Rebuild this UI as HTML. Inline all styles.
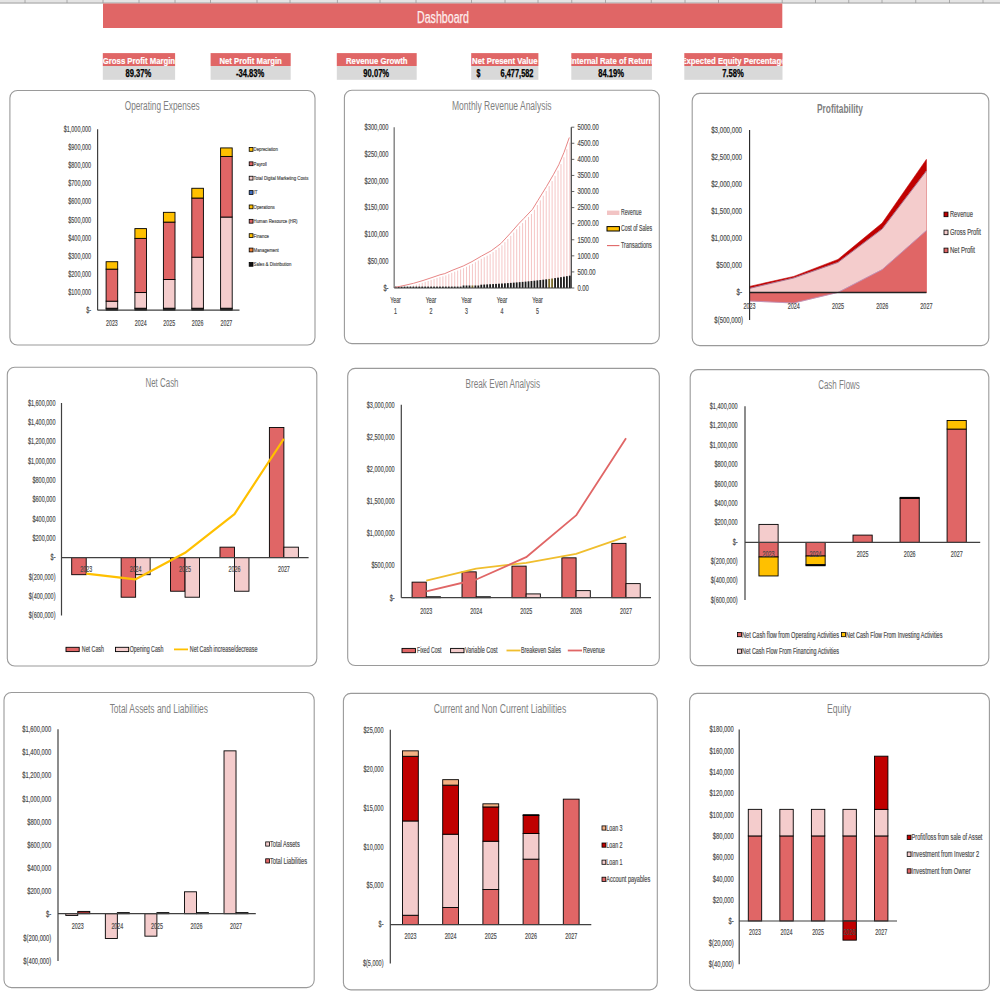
<!DOCTYPE html>
<html><head><meta charset="utf-8"><title>Dashboard</title>
<style>html,body{margin:0;padding:0;background:#fff;width:1000px;height:1000px;overflow:hidden;}
svg{display:block;font-family:"Liberation Sans",sans-serif;}</style></head><body>
<svg width="1000" height="1000" viewBox="0 0 1000 1000" font-family="Liberation Sans, sans-serif">
<rect x="0.00" y="0.00" width="1000.00" height="1000.00" fill="#fff"/>
<rect x="0.00" y="0.00" width="1000.00" height="2.60" fill="#E4E4E4"/>
<line x1="0.00" y1="3.00" x2="1000.00" y2="3.00" stroke="#969696" stroke-width="1.00"/>
<line x1="25.00" y1="0.00" x2="25.00" y2="3.00" stroke="#9A9A9A" stroke-width="0.80"/>
<line x1="67.00" y1="0.00" x2="67.00" y2="3.00" stroke="#9A9A9A" stroke-width="0.80"/>
<line x1="103.00" y1="0.00" x2="103.00" y2="3.00" stroke="#9A9A9A" stroke-width="0.80"/>
<line x1="139.00" y1="0.00" x2="139.00" y2="3.00" stroke="#9A9A9A" stroke-width="0.80"/>
<line x1="175.00" y1="0.00" x2="175.00" y2="3.00" stroke="#9A9A9A" stroke-width="0.80"/>
<line x1="210.50" y1="0.00" x2="210.50" y2="3.00" stroke="#9A9A9A" stroke-width="0.80"/>
<line x1="257.00" y1="0.00" x2="257.00" y2="3.00" stroke="#9A9A9A" stroke-width="0.80"/>
<line x1="290.00" y1="0.00" x2="290.00" y2="3.00" stroke="#9A9A9A" stroke-width="0.80"/>
<line x1="337.40" y1="0.00" x2="337.40" y2="3.00" stroke="#9A9A9A" stroke-width="0.80"/>
<line x1="380.00" y1="0.00" x2="380.00" y2="3.00" stroke="#9A9A9A" stroke-width="0.80"/>
<line x1="416.00" y1="0.00" x2="416.00" y2="3.00" stroke="#9A9A9A" stroke-width="0.80"/>
<line x1="471.50" y1="0.00" x2="471.50" y2="3.00" stroke="#9A9A9A" stroke-width="0.80"/>
<line x1="505.00" y1="0.00" x2="505.00" y2="3.00" stroke="#9A9A9A" stroke-width="0.80"/>
<line x1="538.00" y1="0.00" x2="538.00" y2="3.00" stroke="#9A9A9A" stroke-width="0.80"/>
<line x1="571.75" y1="0.00" x2="571.75" y2="3.00" stroke="#9A9A9A" stroke-width="0.80"/>
<line x1="605.50" y1="0.00" x2="605.50" y2="3.00" stroke="#9A9A9A" stroke-width="0.80"/>
<line x1="651.25" y1="0.00" x2="651.25" y2="3.00" stroke="#9A9A9A" stroke-width="0.80"/>
<line x1="685.00" y1="0.00" x2="685.00" y2="3.00" stroke="#9A9A9A" stroke-width="0.80"/>
<line x1="718.50" y1="0.00" x2="718.50" y2="3.00" stroke="#9A9A9A" stroke-width="0.80"/>
<line x1="782.20" y1="0.00" x2="782.20" y2="3.00" stroke="#9A9A9A" stroke-width="0.80"/>
<line x1="815.50" y1="0.00" x2="815.50" y2="3.00" stroke="#9A9A9A" stroke-width="0.80"/>
<line x1="848.75" y1="0.00" x2="848.75" y2="3.00" stroke="#9A9A9A" stroke-width="0.80"/>
<line x1="882.00" y1="0.00" x2="882.00" y2="3.00" stroke="#9A9A9A" stroke-width="0.80"/>
<line x1="915.75" y1="0.00" x2="915.75" y2="3.00" stroke="#9A9A9A" stroke-width="0.80"/>
<line x1="949.50" y1="0.00" x2="949.50" y2="3.00" stroke="#9A9A9A" stroke-width="0.80"/>
<line x1="983.00" y1="0.00" x2="983.00" y2="3.00" stroke="#9A9A9A" stroke-width="0.80"/>
<rect x="103.00" y="3.50" width="679.30" height="24.50" fill="#E06666"/>
<text x="417.00" y="22.80" font-size="16.00" fill="#FDEDED" font-weight="normal" stroke="#FDEDED" stroke-width="0.25" textLength="52.00" lengthAdjust="spacingAndGlyphs">Dashboard</text>
<rect x="102.80" y="53.10" width="72.30" height="12.90" fill="#E06666"/>
<rect x="102.80" y="66.00" width="72.30" height="13.80" fill="#D9D9D9"/>
<clipPath id="kc0"><rect x="102.80" y="53" width="72.30" height="13"/></clipPath>
<g clip-path="url(#kc0)">
<text x="102.83" y="63.60" font-size="9.00" fill="#fff" font-weight="bold" stroke="#fff" stroke-width="0.20" textLength="72.25" lengthAdjust="spacingAndGlyphs">Gross Profit Margin</text>
</g>
<text x="125.56" y="76.80" font-size="10.00" fill="#000" font-weight="bold" stroke="#000" stroke-width="0.25" textLength="25.77" lengthAdjust="spacingAndGlyphs">89.37%</text>
<rect x="210.60" y="53.10" width="80.10" height="12.90" fill="#E06666"/>
<rect x="210.60" y="66.00" width="80.10" height="13.80" fill="#D9D9D9"/>
<clipPath id="kc1"><rect x="210.60" y="53" width="80.10" height="13"/></clipPath>
<g clip-path="url(#kc1)">
<text x="219.48" y="63.60" font-size="9.00" fill="#fff" font-weight="bold" stroke="#fff" stroke-width="0.20" textLength="62.35" lengthAdjust="spacingAndGlyphs">Net Profit Margin</text>
</g>
<text x="236.00" y="76.80" font-size="10.00" fill="#000" font-weight="bold" stroke="#000" stroke-width="0.25" textLength="28.31" lengthAdjust="spacingAndGlyphs">-34.83%</text>
<rect x="336.80" y="53.10" width="79.90" height="12.90" fill="#E06666"/>
<rect x="336.80" y="66.00" width="79.90" height="13.80" fill="#D9D9D9"/>
<clipPath id="kc2"><rect x="336.80" y="53" width="79.90" height="13"/></clipPath>
<g clip-path="url(#kc2)">
<text x="346.00" y="63.60" font-size="9.00" fill="#fff" font-weight="bold" stroke="#fff" stroke-width="0.20" textLength="61.50" lengthAdjust="spacingAndGlyphs">Revenue Growth</text>
</g>
<text x="363.36" y="76.80" font-size="10.00" fill="#000" font-weight="bold" stroke="#000" stroke-width="0.25" textLength="25.77" lengthAdjust="spacingAndGlyphs">90.07%</text>
<rect x="471.20" y="53.10" width="67.20" height="12.90" fill="#E06666"/>
<rect x="471.20" y="66.00" width="67.20" height="13.80" fill="#D9D9D9"/>
<clipPath id="kc3"><rect x="471.20" y="53" width="67.20" height="13"/></clipPath>
<g clip-path="url(#kc3)">
<text x="472.11" y="63.60" font-size="9.00" fill="#fff" font-weight="bold" stroke="#fff" stroke-width="0.20" textLength="65.39" lengthAdjust="spacingAndGlyphs">Net Present Value</text>
</g>
<text x="476.50" y="76.80" font-size="10.00" fill="#000" font-weight="bold" stroke="#000" stroke-width="0.25" textLength="3.89" lengthAdjust="spacingAndGlyphs">$</text>
<text x="500.58" y="76.80" font-size="10.00" fill="#000" font-weight="bold" stroke="#000" stroke-width="0.25" textLength="32.92" lengthAdjust="spacingAndGlyphs">6,477,582</text>
<rect x="571.30" y="53.10" width="80.60" height="12.90" fill="#E06666"/>
<rect x="571.30" y="66.00" width="80.60" height="13.80" fill="#D9D9D9"/>
<clipPath id="kc4"><rect x="571.30" y="53" width="80.60" height="13"/></clipPath>
<g clip-path="url(#kc4)">
<text x="569.89" y="63.60" font-size="9.00" fill="#fff" font-weight="bold" stroke="#fff" stroke-width="0.20" textLength="83.42" lengthAdjust="spacingAndGlyphs">Internal Rate of Return</text>
</g>
<text x="598.21" y="76.80" font-size="10.00" fill="#000" font-weight="bold" stroke="#000" stroke-width="0.25" textLength="25.77" lengthAdjust="spacingAndGlyphs">84.19%</text>
<rect x="684.30" y="53.10" width="98.20" height="12.90" fill="#E06666"/>
<rect x="684.30" y="66.00" width="98.20" height="13.80" fill="#D9D9D9"/>
<clipPath id="kc5"><rect x="684.30" y="53" width="98.20" height="13"/></clipPath>
<g clip-path="url(#kc5)">
<text x="681.36" y="63.60" font-size="9.00" fill="#fff" font-weight="bold" stroke="#fff" stroke-width="0.20" textLength="104.09" lengthAdjust="spacingAndGlyphs">Expected Equity Percentage</text>
</g>
<text x="722.13" y="76.80" font-size="10.00" fill="#000" font-weight="bold" stroke="#000" stroke-width="0.25" textLength="21.55" lengthAdjust="spacingAndGlyphs">7.58%</text>
<rect x="9.90" y="90.50" width="305.10" height="254.50" rx="7.5" ry="7.5" fill="#fff" stroke="#9A9A9A" stroke-width="1.1"/>
<text x="124.70" y="109.60" font-size="12.50" fill="#7F7F7F" font-weight="normal" textLength="75.00" lengthAdjust="spacingAndGlyphs">Operating Expenses</text>
<text x="63.78" y="132.10" font-size="8.96" fill="#4A4A4A" font-weight="normal" stroke="#4A4A4A" stroke-width="0.18" textLength="27.22" lengthAdjust="spacingAndGlyphs">$1,000,000</text>
<text x="68.31" y="150.19" font-size="8.96" fill="#4A4A4A" font-weight="normal" stroke="#4A4A4A" stroke-width="0.18" textLength="22.69" lengthAdjust="spacingAndGlyphs">$900,000</text>
<text x="68.31" y="168.28" font-size="8.96" fill="#4A4A4A" font-weight="normal" stroke="#4A4A4A" stroke-width="0.18" textLength="22.69" lengthAdjust="spacingAndGlyphs">$800,000</text>
<text x="68.31" y="186.37" font-size="8.96" fill="#4A4A4A" font-weight="normal" stroke="#4A4A4A" stroke-width="0.18" textLength="22.69" lengthAdjust="spacingAndGlyphs">$700,000</text>
<text x="68.31" y="204.46" font-size="8.96" fill="#4A4A4A" font-weight="normal" stroke="#4A4A4A" stroke-width="0.18" textLength="22.69" lengthAdjust="spacingAndGlyphs">$600,000</text>
<text x="68.31" y="222.55" font-size="8.96" fill="#4A4A4A" font-weight="normal" stroke="#4A4A4A" stroke-width="0.18" textLength="22.69" lengthAdjust="spacingAndGlyphs">$500,000</text>
<text x="68.31" y="240.64" font-size="8.96" fill="#4A4A4A" font-weight="normal" stroke="#4A4A4A" stroke-width="0.18" textLength="22.69" lengthAdjust="spacingAndGlyphs">$400,000</text>
<text x="68.31" y="258.73" font-size="8.96" fill="#4A4A4A" font-weight="normal" stroke="#4A4A4A" stroke-width="0.18" textLength="22.69" lengthAdjust="spacingAndGlyphs">$300,000</text>
<text x="68.31" y="276.82" font-size="8.96" fill="#4A4A4A" font-weight="normal" stroke="#4A4A4A" stroke-width="0.18" textLength="22.69" lengthAdjust="spacingAndGlyphs">$200,000</text>
<text x="68.31" y="294.91" font-size="8.96" fill="#4A4A4A" font-weight="normal" stroke="#4A4A4A" stroke-width="0.18" textLength="22.69" lengthAdjust="spacingAndGlyphs">$100,000</text>
<text x="86.16" y="313.00" font-size="8.96" fill="#4A4A4A" font-weight="normal" stroke="#4A4A4A" stroke-width="0.18" textLength="4.84" lengthAdjust="spacingAndGlyphs">$-</text>
<rect x="106.10" y="308.21" width="11.60" height="1.99" fill="#111" stroke="#000" stroke-width="0.90"/>
<rect x="106.10" y="301.15" width="11.60" height="7.06" fill="#F4CCCC" stroke="#000" stroke-width="0.90"/>
<rect x="106.10" y="269.14" width="11.60" height="32.02" fill="#E06666" stroke="#000" stroke-width="0.90"/>
<rect x="106.10" y="261.72" width="11.60" height="7.42" fill="#FFC000" stroke="#000" stroke-width="0.90"/>
<rect x="134.90" y="308.21" width="11.60" height="1.99" fill="#111" stroke="#000" stroke-width="0.90"/>
<rect x="134.90" y="292.56" width="11.60" height="15.65" fill="#F4CCCC" stroke="#000" stroke-width="0.90"/>
<rect x="134.90" y="238.38" width="11.60" height="54.18" fill="#E06666" stroke="#000" stroke-width="0.90"/>
<rect x="134.90" y="228.61" width="11.60" height="9.77" fill="#FFC000" stroke="#000" stroke-width="0.90"/>
<rect x="163.40" y="308.21" width="11.60" height="1.99" fill="#111" stroke="#000" stroke-width="0.90"/>
<rect x="163.40" y="279.54" width="11.60" height="28.67" fill="#F4CCCC" stroke="#000" stroke-width="0.90"/>
<rect x="163.40" y="222.10" width="11.60" height="57.44" fill="#E06666" stroke="#000" stroke-width="0.90"/>
<rect x="163.40" y="212.33" width="11.60" height="9.77" fill="#FFC000" stroke="#000" stroke-width="0.90"/>
<rect x="191.80" y="308.21" width="11.60" height="1.99" fill="#111" stroke="#000" stroke-width="0.90"/>
<rect x="191.80" y="257.20" width="11.60" height="51.01" fill="#F4CCCC" stroke="#000" stroke-width="0.90"/>
<rect x="191.80" y="198.04" width="11.60" height="59.15" fill="#E06666" stroke="#000" stroke-width="0.90"/>
<rect x="191.80" y="188.27" width="11.60" height="9.77" fill="#FFC000" stroke="#000" stroke-width="0.90"/>
<rect x="220.60" y="308.21" width="11.60" height="1.99" fill="#111" stroke="#000" stroke-width="0.90"/>
<rect x="220.60" y="217.04" width="11.60" height="91.17" fill="#F4CCCC" stroke="#000" stroke-width="0.90"/>
<rect x="220.60" y="156.44" width="11.60" height="60.60" fill="#E06666" stroke="#000" stroke-width="0.90"/>
<rect x="220.60" y="147.93" width="11.60" height="8.50" fill="#FFC000" stroke="#000" stroke-width="0.90"/>
<line x1="97.60" y1="129.30" x2="97.60" y2="310.20" stroke="#404040" stroke-width="1.20"/>
<line x1="97.60" y1="310.20" x2="239.50" y2="310.20" stroke="#404040" stroke-width="1.20"/>
<text x="106.03" y="325.60" font-size="8.96" fill="#4A4A4A" font-weight="normal" stroke="#4A4A4A" stroke-width="0.18" textLength="11.74" lengthAdjust="spacingAndGlyphs">2023</text>
<text x="134.83" y="325.60" font-size="8.96" fill="#4A4A4A" font-weight="normal" stroke="#4A4A4A" stroke-width="0.18" textLength="11.74" lengthAdjust="spacingAndGlyphs">2024</text>
<text x="163.33" y="325.60" font-size="8.96" fill="#4A4A4A" font-weight="normal" stroke="#4A4A4A" stroke-width="0.18" textLength="11.74" lengthAdjust="spacingAndGlyphs">2025</text>
<text x="191.73" y="325.60" font-size="8.96" fill="#4A4A4A" font-weight="normal" stroke="#4A4A4A" stroke-width="0.18" textLength="11.74" lengthAdjust="spacingAndGlyphs">2026</text>
<text x="220.53" y="325.60" font-size="8.96" fill="#4A4A4A" font-weight="normal" stroke="#4A4A4A" stroke-width="0.18" textLength="11.74" lengthAdjust="spacingAndGlyphs">2027</text>
<rect x="249.20" y="147.50" width="3.80" height="3.80" fill="#FFC000" stroke="#000" stroke-width="0.80"/>
<text x="253.60" y="151.30" font-size="6.05" fill="#4A4A4A" font-weight="normal" stroke="#4A4A4A" stroke-width="0.18" textLength="24.25" lengthAdjust="spacingAndGlyphs">Depreciation</text>
<rect x="249.20" y="161.87" width="3.80" height="3.80" fill="#E06666" stroke="#000" stroke-width="0.80"/>
<text x="253.60" y="165.67" font-size="6.05" fill="#4A4A4A" font-weight="normal" stroke="#4A4A4A" stroke-width="0.18" textLength="13.20" lengthAdjust="spacingAndGlyphs">Payroll</text>
<rect x="249.20" y="176.24" width="3.80" height="3.80" fill="#F4CCCC" stroke="#000" stroke-width="0.80"/>
<text x="253.60" y="180.04" font-size="6.05" fill="#4A4A4A" font-weight="normal" stroke="#4A4A4A" stroke-width="0.18" textLength="54.74" lengthAdjust="spacingAndGlyphs">Total Digital Marketing Costs</text>
<rect x="249.20" y="190.61" width="3.80" height="3.80" fill="#4472C4" stroke="#000" stroke-width="0.80"/>
<text x="253.60" y="194.41" font-size="6.05" fill="#4A4A4A" font-weight="normal" stroke="#4A4A4A" stroke-width="0.18" textLength="3.84" lengthAdjust="spacingAndGlyphs">IT</text>
<rect x="249.20" y="204.98" width="3.80" height="3.80" fill="#FFC000" stroke="#000" stroke-width="0.80"/>
<text x="253.60" y="208.78" font-size="6.05" fill="#4A4A4A" font-weight="normal" stroke="#4A4A4A" stroke-width="0.18" textLength="21.13" lengthAdjust="spacingAndGlyphs">Operations</text>
<rect x="249.20" y="219.35" width="3.80" height="3.80" fill="#E06666" stroke="#000" stroke-width="0.80"/>
<text x="253.60" y="223.15" font-size="6.05" fill="#4A4A4A" font-weight="normal" stroke="#4A4A4A" stroke-width="0.18" textLength="43.93" lengthAdjust="spacingAndGlyphs">Human Resource (HR)</text>
<rect x="249.20" y="233.72" width="3.80" height="3.80" fill="#FFC000" stroke="#000" stroke-width="0.80"/>
<text x="253.60" y="237.52" font-size="6.05" fill="#4A4A4A" font-weight="normal" stroke="#4A4A4A" stroke-width="0.18" textLength="15.37" lengthAdjust="spacingAndGlyphs">Finance</text>
<rect x="249.20" y="248.09" width="3.80" height="3.80" fill="#ED7D31" stroke="#000" stroke-width="0.80"/>
<text x="253.60" y="251.89" font-size="6.05" fill="#4A4A4A" font-weight="normal" stroke="#4A4A4A" stroke-width="0.18" textLength="25.21" lengthAdjust="spacingAndGlyphs">Management</text>
<rect x="249.20" y="262.46" width="3.80" height="3.80" fill="#111" stroke="#000" stroke-width="0.80"/>
<text x="253.60" y="266.26" font-size="6.05" fill="#4A4A4A" font-weight="normal" stroke="#4A4A4A" stroke-width="0.18" textLength="37.70" lengthAdjust="spacingAndGlyphs">Sales &amp; Distribution</text>
<rect x="344.40" y="90.20" width="314.90" height="253.40" rx="7.5" ry="7.5" fill="#fff" stroke="#9A9A9A" stroke-width="1.1"/>
<text x="452.00" y="109.60" font-size="12.50" fill="#7F7F7F" font-weight="normal" textLength="99.60" lengthAdjust="spacingAndGlyphs">Monthly Revenue Analysis</text>
<text x="364.48" y="130.00" font-size="8.96" fill="#4A4A4A" font-weight="normal" stroke="#4A4A4A" stroke-width="0.18" textLength="24.02" lengthAdjust="spacingAndGlyphs">$300,000</text>
<text x="364.48" y="156.80" font-size="8.96" fill="#4A4A4A" font-weight="normal" stroke="#4A4A4A" stroke-width="0.18" textLength="24.02" lengthAdjust="spacingAndGlyphs">$250,000</text>
<text x="364.48" y="183.60" font-size="8.96" fill="#4A4A4A" font-weight="normal" stroke="#4A4A4A" stroke-width="0.18" textLength="24.02" lengthAdjust="spacingAndGlyphs">$200,000</text>
<text x="364.48" y="210.40" font-size="8.96" fill="#4A4A4A" font-weight="normal" stroke="#4A4A4A" stroke-width="0.18" textLength="24.02" lengthAdjust="spacingAndGlyphs">$150,000</text>
<text x="364.48" y="237.20" font-size="8.96" fill="#4A4A4A" font-weight="normal" stroke="#4A4A4A" stroke-width="0.18" textLength="24.02" lengthAdjust="spacingAndGlyphs">$100,000</text>
<text x="367.68" y="264.00" font-size="8.96" fill="#4A4A4A" font-weight="normal" stroke="#4A4A4A" stroke-width="0.18" textLength="20.82" lengthAdjust="spacingAndGlyphs">$50,000</text>
<text x="383.38" y="290.80" font-size="8.96" fill="#4A4A4A" font-weight="normal" stroke="#4A4A4A" stroke-width="0.18" textLength="5.12" lengthAdjust="spacingAndGlyphs">$-</text>
<text x="577.40" y="130.00" font-size="8.96" fill="#4A4A4A" font-weight="normal" stroke="#4A4A4A" stroke-width="0.18" textLength="21.40" lengthAdjust="spacingAndGlyphs">5000.00</text>
<line x1="571.30" y1="127.20" x2="574.30" y2="127.20" stroke="#404040" stroke-width="0.80"/>
<text x="577.40" y="146.08" font-size="8.96" fill="#4A4A4A" font-weight="normal" stroke="#4A4A4A" stroke-width="0.18" textLength="21.40" lengthAdjust="spacingAndGlyphs">4500.00</text>
<line x1="571.30" y1="143.28" x2="574.30" y2="143.28" stroke="#404040" stroke-width="0.80"/>
<text x="577.40" y="162.16" font-size="8.96" fill="#4A4A4A" font-weight="normal" stroke="#4A4A4A" stroke-width="0.18" textLength="21.40" lengthAdjust="spacingAndGlyphs">4000.00</text>
<line x1="571.30" y1="159.36" x2="574.30" y2="159.36" stroke="#404040" stroke-width="0.80"/>
<text x="577.40" y="178.24" font-size="8.96" fill="#4A4A4A" font-weight="normal" stroke="#4A4A4A" stroke-width="0.18" textLength="21.40" lengthAdjust="spacingAndGlyphs">3500.00</text>
<line x1="571.30" y1="175.44" x2="574.30" y2="175.44" stroke="#404040" stroke-width="0.80"/>
<text x="577.40" y="194.32" font-size="8.96" fill="#4A4A4A" font-weight="normal" stroke="#4A4A4A" stroke-width="0.18" textLength="21.40" lengthAdjust="spacingAndGlyphs">3000.00</text>
<line x1="571.30" y1="191.52" x2="574.30" y2="191.52" stroke="#404040" stroke-width="0.80"/>
<text x="577.40" y="210.40" font-size="8.96" fill="#4A4A4A" font-weight="normal" stroke="#4A4A4A" stroke-width="0.18" textLength="21.40" lengthAdjust="spacingAndGlyphs">2500.00</text>
<line x1="571.30" y1="207.60" x2="574.30" y2="207.60" stroke="#404040" stroke-width="0.80"/>
<text x="577.40" y="226.48" font-size="8.96" fill="#4A4A4A" font-weight="normal" stroke="#4A4A4A" stroke-width="0.18" textLength="21.40" lengthAdjust="spacingAndGlyphs">2000.00</text>
<line x1="571.30" y1="223.68" x2="574.30" y2="223.68" stroke="#404040" stroke-width="0.80"/>
<text x="577.40" y="242.56" font-size="8.96" fill="#4A4A4A" font-weight="normal" stroke="#4A4A4A" stroke-width="0.18" textLength="21.40" lengthAdjust="spacingAndGlyphs">1500.00</text>
<line x1="571.30" y1="239.76" x2="574.30" y2="239.76" stroke="#404040" stroke-width="0.80"/>
<text x="577.40" y="258.64" font-size="8.96" fill="#4A4A4A" font-weight="normal" stroke="#4A4A4A" stroke-width="0.18" textLength="21.40" lengthAdjust="spacingAndGlyphs">1000.00</text>
<line x1="571.30" y1="255.84" x2="574.30" y2="255.84" stroke="#404040" stroke-width="0.80"/>
<text x="577.40" y="274.72" font-size="8.96" fill="#4A4A4A" font-weight="normal" stroke="#4A4A4A" stroke-width="0.18" textLength="18.11" lengthAdjust="spacingAndGlyphs">500.00</text>
<line x1="571.30" y1="271.92" x2="574.30" y2="271.92" stroke="#404040" stroke-width="0.80"/>
<text x="577.40" y="290.80" font-size="8.96" fill="#4A4A4A" font-weight="normal" stroke="#4A4A4A" stroke-width="0.18" textLength="11.52" lengthAdjust="spacingAndGlyphs">0.00</text>
<line x1="571.30" y1="288.00" x2="574.30" y2="288.00" stroke="#404040" stroke-width="0.80"/>
<rect x="404.03" y="287.42" width="1.00" height="0.58" fill="#F5C6C6"/>
<rect x="406.98" y="286.75" width="1.00" height="1.25" fill="#F5C6C6"/>
<rect x="409.93" y="286.08" width="1.00" height="1.92" fill="#F5C6C6"/>
<rect x="412.89" y="285.41" width="1.00" height="2.59" fill="#F5C6C6"/>
<rect x="415.84" y="284.56" width="1.00" height="3.44" fill="#F5C6C6"/>
<rect x="418.79" y="283.71" width="1.00" height="4.29" fill="#F5C6C6"/>
<rect x="421.74" y="282.86" width="1.00" height="5.14" fill="#F5C6C6"/>
<rect x="424.69" y="281.93" width="1.00" height="6.07" fill="#F5C6C6"/>
<rect x="427.64" y="280.98" width="1.00" height="7.02" fill="#F5C6C6"/>
<rect x="430.60" y="280.02" width="1.00" height="7.98" fill="#F5C6C6"/>
<rect x="433.55" y="279.05" width="1.00" height="8.95" fill="#F5C6C6"/>
<rect x="436.50" y="278.06" width="1.00" height="9.94" fill="#F5C6C6"/>
<rect x="439.45" y="277.07" width="1.00" height="10.93" fill="#F5C6C6"/>
<rect x="442.40" y="276.34" width="1.00" height="11.66" fill="#F5C6C6"/>
<rect x="445.35" y="275.42" width="1.00" height="12.58" fill="#F5C6C6"/>
<rect x="448.31" y="274.13" width="1.00" height="13.87" fill="#F5C6C6"/>
<rect x="451.26" y="272.85" width="1.00" height="15.15" fill="#F5C6C6"/>
<rect x="454.21" y="271.70" width="1.00" height="16.30" fill="#F5C6C6"/>
<rect x="457.16" y="270.56" width="1.00" height="17.44" fill="#F5C6C6"/>
<rect x="460.11" y="269.43" width="1.00" height="18.57" fill="#F5C6C6"/>
<rect x="463.06" y="268.25" width="1.00" height="19.75" fill="#F5C6C6"/>
<rect x="466.02" y="266.81" width="1.00" height="21.19" fill="#F5C6C6"/>
<rect x="468.97" y="265.36" width="1.00" height="22.64" fill="#F5C6C6"/>
<rect x="471.92" y="263.88" width="1.00" height="24.12" fill="#F5C6C6"/>
<rect x="474.87" y="262.19" width="1.00" height="25.81" fill="#F5C6C6"/>
<rect x="477.82" y="260.50" width="1.00" height="27.50" fill="#F5C6C6"/>
<rect x="480.77" y="258.82" width="1.00" height="29.18" fill="#F5C6C6"/>
<rect x="483.73" y="257.24" width="1.00" height="30.76" fill="#F5C6C6"/>
<rect x="486.68" y="255.67" width="1.00" height="32.33" fill="#F5C6C6"/>
<rect x="489.63" y="254.10" width="1.00" height="33.90" fill="#F5C6C6"/>
<rect x="492.58" y="252.15" width="1.00" height="35.85" fill="#F5C6C6"/>
<rect x="495.53" y="249.98" width="1.00" height="38.02" fill="#F5C6C6"/>
<rect x="498.48" y="247.81" width="1.00" height="40.19" fill="#F5C6C6"/>
<rect x="501.44" y="245.27" width="1.00" height="42.73" fill="#F5C6C6"/>
<rect x="504.39" y="242.14" width="1.00" height="45.86" fill="#F5C6C6"/>
<rect x="507.34" y="239.00" width="1.00" height="49.00" fill="#F5C6C6"/>
<rect x="510.29" y="235.85" width="1.00" height="52.15" fill="#F5C6C6"/>
<rect x="513.24" y="232.56" width="1.00" height="55.44" fill="#F5C6C6"/>
<rect x="516.19" y="229.28" width="1.00" height="58.72" fill="#F5C6C6"/>
<rect x="519.15" y="226.04" width="1.00" height="61.96" fill="#F5C6C6"/>
<rect x="522.10" y="223.08" width="1.00" height="64.92" fill="#F5C6C6"/>
<rect x="525.05" y="220.07" width="1.00" height="67.93" fill="#F5C6C6"/>
<rect x="528.00" y="217.01" width="1.00" height="70.99" fill="#F5C6C6"/>
<rect x="530.95" y="213.95" width="1.00" height="74.05" fill="#F5C6C6"/>
<rect x="533.90" y="209.80" width="1.00" height="78.20" fill="#F5C6C6"/>
<rect x="536.86" y="205.05" width="1.00" height="82.95" fill="#F5C6C6"/>
<rect x="539.81" y="200.36" width="1.00" height="87.64" fill="#F5C6C6"/>
<rect x="542.76" y="195.67" width="1.00" height="92.33" fill="#F5C6C6"/>
<rect x="545.71" y="190.98" width="1.00" height="97.02" fill="#F5C6C6"/>
<rect x="548.66" y="186.04" width="1.00" height="101.96" fill="#F5C6C6"/>
<rect x="551.61" y="181.07" width="1.00" height="106.93" fill="#F5C6C6"/>
<rect x="554.57" y="175.91" width="1.00" height="112.09" fill="#F5C6C6"/>
<rect x="557.52" y="170.57" width="1.00" height="117.43" fill="#F5C6C6"/>
<rect x="560.47" y="164.13" width="1.00" height="123.87" fill="#F5C6C6"/>
<rect x="563.42" y="157.29" width="1.00" height="130.71" fill="#F5C6C6"/>
<rect x="566.37" y="149.19" width="1.00" height="138.81" fill="#F5C6C6"/>
<rect x="569.32" y="142.50" width="1.00" height="145.50" fill="#F5C6C6"/>
<rect x="394.78" y="286.60" width="1.80" height="1.40" fill="#1a1a1a"/>
<rect x="397.73" y="286.60" width="1.80" height="1.40" fill="#1a1a1a"/>
<rect x="400.68" y="286.60" width="1.80" height="1.40" fill="#1a1a1a"/>
<rect x="403.63" y="286.60" width="1.80" height="1.40" fill="#1a1a1a"/>
<rect x="406.58" y="286.60" width="1.80" height="1.40" fill="#1a1a1a"/>
<rect x="409.53" y="286.60" width="1.80" height="1.40" fill="#1a1a1a"/>
<rect x="412.49" y="286.60" width="1.80" height="1.40" fill="#1a1a1a"/>
<rect x="415.44" y="286.60" width="1.80" height="1.40" fill="#1a1a1a"/>
<rect x="418.39" y="286.60" width="1.80" height="1.40" fill="#1a1a1a"/>
<rect x="421.34" y="286.60" width="1.80" height="1.40" fill="#1a1a1a"/>
<rect x="424.29" y="286.60" width="1.80" height="1.40" fill="#1a1a1a"/>
<rect x="427.24" y="286.60" width="1.80" height="1.40" fill="#1a1a1a"/>
<rect x="430.20" y="286.60" width="1.80" height="1.40" fill="#1a1a1a"/>
<rect x="433.15" y="286.60" width="1.80" height="1.40" fill="#1a1a1a"/>
<rect x="436.10" y="286.60" width="1.80" height="1.40" fill="#1a1a1a"/>
<rect x="439.05" y="286.60" width="1.80" height="1.40" fill="#1a1a1a"/>
<rect x="442.00" y="286.60" width="1.80" height="1.40" fill="#1a1a1a"/>
<rect x="444.95" y="286.60" width="1.80" height="1.40" fill="#1a1a1a"/>
<rect x="447.91" y="286.60" width="1.80" height="1.40" fill="#1a1a1a"/>
<rect x="450.86" y="286.60" width="1.80" height="1.40" fill="#1a1a1a"/>
<rect x="453.81" y="286.60" width="1.80" height="1.40" fill="#1a1a1a"/>
<rect x="456.76" y="286.60" width="1.80" height="1.40" fill="#1a1a1a"/>
<rect x="459.71" y="286.60" width="1.80" height="1.40" fill="#1a1a1a"/>
<rect x="462.66" y="285.50" width="1.80" height="2.50" fill="#1a1a1a"/>
<rect x="465.62" y="285.50" width="1.80" height="2.50" fill="#1a1a1a"/>
<rect x="468.57" y="285.50" width="1.80" height="2.50" fill="#1a1a1a"/>
<rect x="471.52" y="285.50" width="1.80" height="2.50" fill="#7A6A2A"/>
<rect x="474.47" y="285.50" width="1.80" height="2.50" fill="#1a1a1a"/>
<rect x="477.42" y="285.50" width="1.80" height="2.50" fill="#1a1a1a"/>
<rect x="480.37" y="284.70" width="1.80" height="3.30" fill="#1a1a1a"/>
<rect x="483.33" y="284.55" width="1.80" height="3.45" fill="#1a1a1a"/>
<rect x="486.28" y="284.40" width="1.80" height="3.60" fill="#1a1a1a"/>
<rect x="489.23" y="284.23" width="1.80" height="3.77" fill="#1a1a1a"/>
<rect x="492.18" y="284.06" width="1.80" height="3.94" fill="#1a1a1a"/>
<rect x="495.13" y="283.89" width="1.80" height="4.11" fill="#1a1a1a"/>
<rect x="498.08" y="283.70" width="1.80" height="4.30" fill="#1a1a1a"/>
<rect x="501.04" y="283.51" width="1.80" height="4.49" fill="#1a1a1a"/>
<rect x="503.99" y="283.31" width="1.80" height="4.69" fill="#1a1a1a"/>
<rect x="506.94" y="283.10" width="1.80" height="4.90" fill="#1a1a1a"/>
<rect x="509.89" y="282.88" width="1.80" height="5.12" fill="#1a1a1a"/>
<rect x="512.84" y="282.65" width="1.80" height="5.35" fill="#1a1a1a"/>
<rect x="515.79" y="282.40" width="1.80" height="5.60" fill="#1a1a1a"/>
<rect x="518.75" y="282.15" width="1.80" height="5.85" fill="#1a1a1a"/>
<rect x="521.70" y="281.89" width="1.80" height="6.11" fill="#1a1a1a"/>
<rect x="524.65" y="281.62" width="1.80" height="6.38" fill="#1a1a1a"/>
<rect x="527.60" y="281.33" width="1.80" height="6.67" fill="#1a1a1a"/>
<rect x="530.55" y="281.03" width="1.80" height="6.97" fill="#1a1a1a"/>
<rect x="533.50" y="280.71" width="1.80" height="7.29" fill="#1a1a1a"/>
<rect x="536.46" y="280.39" width="1.80" height="7.61" fill="#1a1a1a"/>
<rect x="539.41" y="280.04" width="1.80" height="7.96" fill="#1a1a1a"/>
<rect x="542.36" y="279.69" width="1.80" height="8.31" fill="#1a1a1a"/>
<rect x="545.31" y="279.31" width="1.80" height="8.69" fill="#1a1a1a"/>
<rect x="548.26" y="278.92" width="1.80" height="9.08" fill="#7A6A2A"/>
<rect x="551.21" y="278.51" width="1.80" height="9.49" fill="#7A6A2A"/>
<rect x="554.17" y="278.09" width="1.80" height="9.91" fill="#1a1a1a"/>
<rect x="557.12" y="277.64" width="1.80" height="10.36" fill="#1a1a1a"/>
<rect x="560.07" y="277.17" width="1.80" height="10.83" fill="#1a1a1a"/>
<rect x="563.02" y="276.69" width="1.80" height="11.31" fill="#1a1a1a"/>
<rect x="565.97" y="276.18" width="1.80" height="11.82" fill="#1a1a1a"/>
<rect x="568.92" y="275.65" width="1.80" height="12.35" fill="#1a1a1a"/>
<polyline points="394.50,287.50 404.00,285.50 413.50,283.30 423.00,280.50 433.00,277.20 440.00,274.80 444.80,273.60 452.00,270.40 463.20,266.00 472.00,261.60 481.60,256.00 491.20,250.80 500.80,243.60 510.40,233.20 519.20,223.20 523.80,218.50 532.50,209.30 537.80,200.60 546.50,186.50 553.60,174.30 558.80,164.70 564.00,152.40 569.30,137.50" fill="none" stroke="#E88686" stroke-width="1.00" stroke-linejoin="round"/>
<line x1="394.20" y1="127.20" x2="394.20" y2="288.00" stroke="#7F7F7F" stroke-width="1.40"/>
<line x1="571.30" y1="127.20" x2="571.30" y2="288.00" stroke="#404040" stroke-width="1.20"/>
<line x1="394.20" y1="288.00" x2="571.30" y2="288.00" stroke="#404040" stroke-width="1.20"/>
<text x="390.17" y="302.60" font-size="8.96" fill="#4A4A4A" font-weight="normal" stroke="#4A4A4A" stroke-width="0.18" textLength="10.67" lengthAdjust="spacingAndGlyphs">Year</text>
<text x="394.03" y="314.00" font-size="8.96" fill="#4A4A4A" font-weight="normal" stroke="#4A4A4A" stroke-width="0.18" textLength="2.94" lengthAdjust="spacingAndGlyphs">1</text>
<text x="425.67" y="302.60" font-size="8.96" fill="#4A4A4A" font-weight="normal" stroke="#4A4A4A" stroke-width="0.18" textLength="10.67" lengthAdjust="spacingAndGlyphs">Year</text>
<text x="429.53" y="314.00" font-size="8.96" fill="#4A4A4A" font-weight="normal" stroke="#4A4A4A" stroke-width="0.18" textLength="2.94" lengthAdjust="spacingAndGlyphs">2</text>
<text x="461.17" y="302.60" font-size="8.96" fill="#4A4A4A" font-weight="normal" stroke="#4A4A4A" stroke-width="0.18" textLength="10.67" lengthAdjust="spacingAndGlyphs">Year</text>
<text x="465.03" y="314.00" font-size="8.96" fill="#4A4A4A" font-weight="normal" stroke="#4A4A4A" stroke-width="0.18" textLength="2.94" lengthAdjust="spacingAndGlyphs">3</text>
<text x="496.67" y="302.60" font-size="8.96" fill="#4A4A4A" font-weight="normal" stroke="#4A4A4A" stroke-width="0.18" textLength="10.67" lengthAdjust="spacingAndGlyphs">Year</text>
<text x="500.53" y="314.00" font-size="8.96" fill="#4A4A4A" font-weight="normal" stroke="#4A4A4A" stroke-width="0.18" textLength="2.94" lengthAdjust="spacingAndGlyphs">4</text>
<text x="532.17" y="302.60" font-size="8.96" fill="#4A4A4A" font-weight="normal" stroke="#4A4A4A" stroke-width="0.18" textLength="10.67" lengthAdjust="spacingAndGlyphs">Year</text>
<text x="536.03" y="314.00" font-size="8.96" fill="#4A4A4A" font-weight="normal" stroke="#4A4A4A" stroke-width="0.18" textLength="2.94" lengthAdjust="spacingAndGlyphs">5</text>
<rect x="607.00" y="210.60" width="12.40" height="4.40" fill="#F2C4C4"/>
<text x="621.00" y="215.40" font-size="8.40" fill="#4A4A4A" font-weight="normal" stroke="#4A4A4A" stroke-width="0.18" textLength="20.50" lengthAdjust="spacingAndGlyphs">Revenue</text>
<rect x="607.00" y="226.60" width="12.40" height="4.40" fill="#FFC000" stroke="#000" stroke-width="1.00"/>
<text x="621.00" y="231.40" font-size="8.40" fill="#4A4A4A" font-weight="normal" stroke="#4A4A4A" stroke-width="0.18" textLength="31.00" lengthAdjust="spacingAndGlyphs">Cost of Sales</text>
<line x1="607.00" y1="245.60" x2="619.40" y2="245.60" stroke="#E06666" stroke-width="1.10"/>
<text x="621.00" y="248.20" font-size="8.40" fill="#4A4A4A" font-weight="normal" stroke="#4A4A4A" stroke-width="0.18" textLength="30.80" lengthAdjust="spacingAndGlyphs">Transactions</text>
<rect x="692.20" y="93.40" width="296.60" height="252.20" rx="7.5" ry="7.5" fill="#fff" stroke="#9A9A9A" stroke-width="1.1"/>
<text x="817.00" y="112.50" font-size="13.00" fill="#7F7F7F" font-weight="bold" textLength="46.00" lengthAdjust="spacingAndGlyphs">Profitability</text>
<text x="711.17" y="132.80" font-size="8.96" fill="#4A4A4A" font-weight="normal" stroke="#4A4A4A" stroke-width="0.18" textLength="30.83" lengthAdjust="spacingAndGlyphs">$3,000,000</text>
<text x="711.17" y="159.88" font-size="8.96" fill="#4A4A4A" font-weight="normal" stroke="#4A4A4A" stroke-width="0.18" textLength="30.83" lengthAdjust="spacingAndGlyphs">$2,500,000</text>
<text x="711.17" y="186.97" font-size="8.96" fill="#4A4A4A" font-weight="normal" stroke="#4A4A4A" stroke-width="0.18" textLength="30.83" lengthAdjust="spacingAndGlyphs">$2,000,000</text>
<text x="711.17" y="214.05" font-size="8.96" fill="#4A4A4A" font-weight="normal" stroke="#4A4A4A" stroke-width="0.18" textLength="30.83" lengthAdjust="spacingAndGlyphs">$1,500,000</text>
<text x="711.17" y="241.13" font-size="8.96" fill="#4A4A4A" font-weight="normal" stroke="#4A4A4A" stroke-width="0.18" textLength="30.83" lengthAdjust="spacingAndGlyphs">$1,000,000</text>
<text x="716.31" y="268.22" font-size="8.96" fill="#4A4A4A" font-weight="normal" stroke="#4A4A4A" stroke-width="0.18" textLength="25.69" lengthAdjust="spacingAndGlyphs">$500,000</text>
<text x="736.52" y="295.30" font-size="8.96" fill="#4A4A4A" font-weight="normal" stroke="#4A4A4A" stroke-width="0.18" textLength="5.48" lengthAdjust="spacingAndGlyphs">$-</text>
<text x="714.37" y="323.30" font-size="8.96" fill="#4A4A4A" font-weight="normal" stroke="#4A4A4A" stroke-width="0.18" textLength="28.63" lengthAdjust="spacingAndGlyphs">$(500,000)</text>
<polygon points="749.60,292.50 749.60,286.40 793.80,276.40 838.00,259.40 882.20,223.00 926.40,159.40 926.40,292.50" fill="#C00000" stroke="#C00000" stroke-width="0.60" stroke-linejoin="round"/>
<polygon points="749.60,292.50 749.60,288.40 793.80,278.00 838.00,262.40 882.20,229.00 926.40,171.00 926.40,292.50" fill="#F4CCCC" stroke="#F2CACA" stroke-width="0.50" stroke-linejoin="round"/>
<polyline points="749.60,288.40 793.80,278.00 838.00,262.40 882.20,229.00 926.40,171.00" fill="none" stroke="#9A6A8E" stroke-width="0.80" stroke-linejoin="round"/>
<polygon points="749.60,292.50 749.60,301.00 793.80,303.00 838.00,292.40 882.20,269.60 926.40,230.60 926.40,292.50" fill="#E06666" stroke="#E06666" stroke-width="0.50" stroke-linejoin="round"/>
<polyline points="749.60,301.00 793.80,303.00 838.00,292.40 882.20,269.60 926.40,230.60" fill="none" stroke="#B39ACB" stroke-width="0.70" stroke-linejoin="round"/>
<line x1="749.60" y1="130.00" x2="749.60" y2="320.00" stroke="#222" stroke-width="1.10"/>
<line x1="749.60" y1="292.50" x2="926.40" y2="292.50" stroke="#222" stroke-width="1.30"/>
<text x="743.55" y="309.00" font-size="8.96" fill="#4A4A4A" font-weight="normal" stroke="#4A4A4A" stroke-width="0.18" textLength="12.10" lengthAdjust="spacingAndGlyphs">2023</text>
<text x="787.75" y="309.00" font-size="8.96" fill="#4A4A4A" font-weight="normal" stroke="#4A4A4A" stroke-width="0.18" textLength="12.10" lengthAdjust="spacingAndGlyphs">2024</text>
<text x="831.95" y="309.00" font-size="8.96" fill="#4A4A4A" font-weight="normal" stroke="#4A4A4A" stroke-width="0.18" textLength="12.10" lengthAdjust="spacingAndGlyphs">2025</text>
<text x="876.15" y="309.00" font-size="8.96" fill="#4A4A4A" font-weight="normal" stroke="#4A4A4A" stroke-width="0.18" textLength="12.10" lengthAdjust="spacingAndGlyphs">2026</text>
<text x="920.35" y="309.00" font-size="8.96" fill="#4A4A4A" font-weight="normal" stroke="#4A4A4A" stroke-width="0.18" textLength="12.10" lengthAdjust="spacingAndGlyphs">2027</text>
<rect x="944.00" y="212.10" width="4.00" height="4.60" fill="#C00000" stroke="#000" stroke-width="0.80"/>
<text x="950.00" y="217.00" font-size="8.40" fill="#4A4A4A" font-weight="normal" stroke="#4A4A4A" stroke-width="0.18" textLength="22.80" lengthAdjust="spacingAndGlyphs">Revenue</text>
<rect x="944.00" y="230.10" width="4.00" height="4.60" fill="#F4CCCC" stroke="#000" stroke-width="0.80"/>
<text x="950.00" y="235.00" font-size="8.40" fill="#4A4A4A" font-weight="normal" stroke="#4A4A4A" stroke-width="0.18" textLength="30.80" lengthAdjust="spacingAndGlyphs">Gross Profit</text>
<rect x="944.00" y="248.10" width="4.00" height="4.60" fill="#E06666" stroke="#000" stroke-width="0.80"/>
<text x="950.00" y="253.00" font-size="8.40" fill="#4A4A4A" font-weight="normal" stroke="#4A4A4A" stroke-width="0.18" textLength="25.00" lengthAdjust="spacingAndGlyphs">Net Profit</text>
<rect x="7.30" y="367.20" width="309.50" height="298.80" rx="7.5" ry="7.5" fill="#fff" stroke="#9A9A9A" stroke-width="1.1"/>
<text x="145.50" y="386.50" font-size="12.50" fill="#7F7F7F" font-weight="normal" textLength="33.00" lengthAdjust="spacingAndGlyphs">Net Cash</text>
<text x="27.88" y="405.80" font-size="8.96" fill="#4A4A4A" font-weight="normal" stroke="#4A4A4A" stroke-width="0.18" textLength="27.62" lengthAdjust="spacingAndGlyphs">$1,600,000</text>
<text x="27.88" y="425.12" font-size="8.96" fill="#4A4A4A" font-weight="normal" stroke="#4A4A4A" stroke-width="0.18" textLength="27.62" lengthAdjust="spacingAndGlyphs">$1,400,000</text>
<text x="27.88" y="444.44" font-size="8.96" fill="#4A4A4A" font-weight="normal" stroke="#4A4A4A" stroke-width="0.18" textLength="27.62" lengthAdjust="spacingAndGlyphs">$1,200,000</text>
<text x="27.88" y="463.75" font-size="8.96" fill="#4A4A4A" font-weight="normal" stroke="#4A4A4A" stroke-width="0.18" textLength="27.62" lengthAdjust="spacingAndGlyphs">$1,000,000</text>
<text x="32.48" y="483.07" font-size="8.96" fill="#4A4A4A" font-weight="normal" stroke="#4A4A4A" stroke-width="0.18" textLength="23.02" lengthAdjust="spacingAndGlyphs">$800,000</text>
<text x="32.48" y="502.39" font-size="8.96" fill="#4A4A4A" font-weight="normal" stroke="#4A4A4A" stroke-width="0.18" textLength="23.02" lengthAdjust="spacingAndGlyphs">$600,000</text>
<text x="32.48" y="521.71" font-size="8.96" fill="#4A4A4A" font-weight="normal" stroke="#4A4A4A" stroke-width="0.18" textLength="23.02" lengthAdjust="spacingAndGlyphs">$400,000</text>
<text x="32.48" y="541.03" font-size="8.96" fill="#4A4A4A" font-weight="normal" stroke="#4A4A4A" stroke-width="0.18" textLength="23.02" lengthAdjust="spacingAndGlyphs">$200,000</text>
<text x="50.59" y="560.35" font-size="8.96" fill="#4A4A4A" font-weight="normal" stroke="#4A4A4A" stroke-width="0.18" textLength="4.91" lengthAdjust="spacingAndGlyphs">$-</text>
<text x="28.80" y="579.66" font-size="8.96" fill="#4A4A4A" font-weight="normal" stroke="#4A4A4A" stroke-width="0.18" textLength="26.70" lengthAdjust="spacingAndGlyphs">$(200,000)</text>
<text x="28.80" y="598.98" font-size="8.96" fill="#4A4A4A" font-weight="normal" stroke="#4A4A4A" stroke-width="0.18" textLength="26.70" lengthAdjust="spacingAndGlyphs">$(400,000)</text>
<text x="28.80" y="618.30" font-size="8.96" fill="#4A4A4A" font-weight="normal" stroke="#4A4A4A" stroke-width="0.18" textLength="26.70" lengthAdjust="spacingAndGlyphs">$(600,000)</text>
<rect x="71.71" y="557.60" width="14.50" height="17.10" fill="#E06666" stroke="#000" stroke-width="0.90"/>
<rect x="121.13" y="557.60" width="14.50" height="39.62" fill="#E06666" stroke="#000" stroke-width="0.90"/>
<rect x="135.63" y="557.60" width="14.50" height="17.10" fill="#F4CCCC" stroke="#000" stroke-width="0.90"/>
<rect x="170.55" y="557.60" width="14.50" height="33.63" fill="#E06666" stroke="#000" stroke-width="0.90"/>
<rect x="185.05" y="557.60" width="14.50" height="39.62" fill="#F4CCCC" stroke="#000" stroke-width="0.90"/>
<rect x="219.97" y="547.16" width="14.50" height="10.44" fill="#E06666" stroke="#000" stroke-width="0.90"/>
<rect x="234.47" y="557.60" width="14.50" height="33.63" fill="#F4CCCC" stroke="#000" stroke-width="0.90"/>
<rect x="269.39" y="427.54" width="14.50" height="130.06" fill="#E06666" stroke="#000" stroke-width="0.90"/>
<rect x="283.89" y="547.16" width="14.50" height="10.44" fill="#F4CCCC" stroke="#000" stroke-width="0.90"/>
<line x1="61.50" y1="403.00" x2="61.50" y2="615.50" stroke="#404040" stroke-width="1.20"/>
<line x1="61.50" y1="557.60" x2="308.60" y2="557.60" stroke="#404040" stroke-width="1.20"/>
<text x="80.25" y="572.00" font-size="8.96" fill="#4A4A4A" font-weight="normal" stroke="#4A4A4A" stroke-width="0.18" textLength="11.92" lengthAdjust="spacingAndGlyphs">2023</text>
<text x="129.67" y="572.00" font-size="8.96" fill="#4A4A4A" font-weight="normal" stroke="#4A4A4A" stroke-width="0.18" textLength="11.92" lengthAdjust="spacingAndGlyphs">2024</text>
<text x="179.09" y="572.00" font-size="8.96" fill="#4A4A4A" font-weight="normal" stroke="#4A4A4A" stroke-width="0.18" textLength="11.92" lengthAdjust="spacingAndGlyphs">2025</text>
<text x="228.51" y="572.00" font-size="8.96" fill="#4A4A4A" font-weight="normal" stroke="#4A4A4A" stroke-width="0.18" textLength="11.92" lengthAdjust="spacingAndGlyphs">2026</text>
<text x="277.93" y="572.00" font-size="8.96" fill="#4A4A4A" font-weight="normal" stroke="#4A4A4A" stroke-width="0.18" textLength="11.92" lengthAdjust="spacingAndGlyphs">2027</text>
<polyline points="86.21,573.54 135.63,579.34 185.05,552.77 234.47,514.12 283.89,438.75" fill="none" stroke="#FFC000" stroke-width="2.20" stroke-linejoin="round"/>
<rect x="66.00" y="647.30" width="13.20" height="4.30" fill="#E06666" stroke="#000" stroke-width="0.90"/>
<text x="81.80" y="652.00" font-size="8.40" fill="#4A4A4A" font-weight="normal" stroke="#4A4A4A" stroke-width="0.18" textLength="22.20" lengthAdjust="spacingAndGlyphs">Net Cash</text>
<rect x="115.50" y="647.30" width="13.20" height="4.30" fill="#F4CCCC" stroke="#000" stroke-width="0.90"/>
<text x="129.70" y="652.00" font-size="8.40" fill="#4A4A4A" font-weight="normal" stroke="#4A4A4A" stroke-width="0.18" textLength="33.70" lengthAdjust="spacingAndGlyphs">Opening Cash</text>
<line x1="174.00" y1="649.40" x2="188.00" y2="649.40" stroke="#FFC000" stroke-width="1.80"/>
<text x="189.80" y="651.90" font-size="8.40" fill="#4A4A4A" font-weight="normal" stroke="#4A4A4A" stroke-width="0.18" textLength="67.60" lengthAdjust="spacingAndGlyphs">Net Cash increase/decrease</text>
<rect x="347.70" y="368.40" width="311.60" height="297.10" rx="7.5" ry="7.5" fill="#fff" stroke="#9A9A9A" stroke-width="1.1"/>
<text x="465.60" y="388.00" font-size="12.50" fill="#7F7F7F" font-weight="normal" textLength="74.40" lengthAdjust="spacingAndGlyphs">Break Even Analysis</text>
<text x="366.78" y="407.60" font-size="8.96" fill="#4A4A4A" font-weight="normal" stroke="#4A4A4A" stroke-width="0.18" textLength="27.82" lengthAdjust="spacingAndGlyphs">$3,000,000</text>
<text x="366.78" y="439.75" font-size="8.96" fill="#4A4A4A" font-weight="normal" stroke="#4A4A4A" stroke-width="0.18" textLength="27.82" lengthAdjust="spacingAndGlyphs">$2,500,000</text>
<text x="366.78" y="471.90" font-size="8.96" fill="#4A4A4A" font-weight="normal" stroke="#4A4A4A" stroke-width="0.18" textLength="27.82" lengthAdjust="spacingAndGlyphs">$2,000,000</text>
<text x="366.78" y="504.05" font-size="8.96" fill="#4A4A4A" font-weight="normal" stroke="#4A4A4A" stroke-width="0.18" textLength="27.82" lengthAdjust="spacingAndGlyphs">$1,500,000</text>
<text x="366.78" y="536.20" font-size="8.96" fill="#4A4A4A" font-weight="normal" stroke="#4A4A4A" stroke-width="0.18" textLength="27.82" lengthAdjust="spacingAndGlyphs">$1,000,000</text>
<text x="371.41" y="568.35" font-size="8.96" fill="#4A4A4A" font-weight="normal" stroke="#4A4A4A" stroke-width="0.18" textLength="23.19" lengthAdjust="spacingAndGlyphs">$500,000</text>
<text x="389.66" y="600.50" font-size="8.96" fill="#4A4A4A" font-weight="normal" stroke="#4A4A4A" stroke-width="0.18" textLength="4.94" lengthAdjust="spacingAndGlyphs">$-</text>
<rect x="412.07" y="582.14" width="14.20" height="15.56" fill="#E06666" stroke="#000" stroke-width="0.90"/>
<rect x="426.27" y="596.80" width="14.20" height="0.90" fill="#222" stroke="#000" stroke-width="0.90"/>
<rect x="462.01" y="571.85" width="14.20" height="25.85" fill="#E06666" stroke="#000" stroke-width="0.90"/>
<rect x="476.21" y="596.80" width="14.20" height="0.90" fill="#222" stroke="#000" stroke-width="0.90"/>
<rect x="511.95" y="566.13" width="14.20" height="31.57" fill="#E06666" stroke="#000" stroke-width="0.90"/>
<rect x="526.15" y="593.91" width="14.20" height="3.79" fill="#F4CCCC" stroke="#000" stroke-width="0.90"/>
<rect x="561.89" y="557.83" width="14.20" height="39.87" fill="#E06666" stroke="#000" stroke-width="0.90"/>
<rect x="576.09" y="590.63" width="14.20" height="7.07" fill="#F4CCCC" stroke="#000" stroke-width="0.90"/>
<rect x="611.83" y="543.37" width="14.20" height="54.33" fill="#E06666" stroke="#000" stroke-width="0.90"/>
<rect x="626.03" y="583.62" width="14.20" height="14.08" fill="#F4CCCC" stroke="#000" stroke-width="0.90"/>
<line x1="401.30" y1="404.80" x2="401.30" y2="597.70" stroke="#404040" stroke-width="1.20"/>
<line x1="401.30" y1="597.70" x2="651.00" y2="597.70" stroke="#404040" stroke-width="1.20"/>
<polyline points="426.27,580.53 476.21,568.57 526.15,562.85 576.09,553.78 626.03,536.68" fill="none" stroke="#F0BE2E" stroke-width="1.80" stroke-linejoin="round"/>
<polyline points="426.27,591.33 476.21,579.50 526.15,557.19 576.09,515.40 626.03,438.24" fill="none" stroke="#E06666" stroke-width="1.80" stroke-linejoin="round"/>
<text x="420.31" y="613.50" font-size="8.96" fill="#4A4A4A" font-weight="normal" stroke="#4A4A4A" stroke-width="0.18" textLength="11.92" lengthAdjust="spacingAndGlyphs">2023</text>
<text x="470.25" y="613.50" font-size="8.96" fill="#4A4A4A" font-weight="normal" stroke="#4A4A4A" stroke-width="0.18" textLength="11.92" lengthAdjust="spacingAndGlyphs">2024</text>
<text x="520.19" y="613.50" font-size="8.96" fill="#4A4A4A" font-weight="normal" stroke="#4A4A4A" stroke-width="0.18" textLength="11.92" lengthAdjust="spacingAndGlyphs">2025</text>
<text x="570.13" y="613.50" font-size="8.96" fill="#4A4A4A" font-weight="normal" stroke="#4A4A4A" stroke-width="0.18" textLength="11.92" lengthAdjust="spacingAndGlyphs">2026</text>
<text x="620.07" y="613.50" font-size="8.96" fill="#4A4A4A" font-weight="normal" stroke="#4A4A4A" stroke-width="0.18" textLength="11.92" lengthAdjust="spacingAndGlyphs">2027</text>
<rect x="402.00" y="648.40" width="13.40" height="4.30" fill="#E06666" stroke="#000" stroke-width="0.90"/>
<text x="417.00" y="653.00" font-size="8.40" fill="#4A4A4A" font-weight="normal" stroke="#4A4A4A" stroke-width="0.18" textLength="24.50" lengthAdjust="spacingAndGlyphs">Fixed Cost</text>
<rect x="450.60" y="648.40" width="13.40" height="4.30" fill="#F4CCCC" stroke="#000" stroke-width="0.90"/>
<text x="465.00" y="653.00" font-size="8.40" fill="#4A4A4A" font-weight="normal" stroke="#4A4A4A" stroke-width="0.18" textLength="32.50" lengthAdjust="spacingAndGlyphs">Variable Cost</text>
<line x1="506.50" y1="650.50" x2="520.50" y2="650.50" stroke="#F0BE2E" stroke-width="1.80"/>
<text x="521.00" y="653.00" font-size="8.40" fill="#4A4A4A" font-weight="normal" stroke="#4A4A4A" stroke-width="0.18" textLength="40.00" lengthAdjust="spacingAndGlyphs">Breakeven Sales</text>
<line x1="567.80" y1="650.50" x2="582.00" y2="650.50" stroke="#E06666" stroke-width="1.80"/>
<text x="583.00" y="653.00" font-size="8.40" fill="#4A4A4A" font-weight="normal" stroke="#4A4A4A" stroke-width="0.18" textLength="21.70" lengthAdjust="spacingAndGlyphs">Revenue</text>
<rect x="690.20" y="369.60" width="298.60" height="296.00" rx="7.5" ry="7.5" fill="#fff" stroke="#9A9A9A" stroke-width="1.1"/>
<text x="818.20" y="389.00" font-size="12.50" fill="#7F7F7F" font-weight="normal" textLength="41.60" lengthAdjust="spacingAndGlyphs">Cash Flows</text>
<text x="709.78" y="409.00" font-size="8.96" fill="#4A4A4A" font-weight="normal" stroke="#4A4A4A" stroke-width="0.18" textLength="27.82" lengthAdjust="spacingAndGlyphs">$1,400,000</text>
<text x="709.78" y="428.38" font-size="8.96" fill="#4A4A4A" font-weight="normal" stroke="#4A4A4A" stroke-width="0.18" textLength="27.82" lengthAdjust="spacingAndGlyphs">$1,200,000</text>
<text x="709.78" y="447.76" font-size="8.96" fill="#4A4A4A" font-weight="normal" stroke="#4A4A4A" stroke-width="0.18" textLength="27.82" lengthAdjust="spacingAndGlyphs">$1,000,000</text>
<text x="714.41" y="467.14" font-size="8.96" fill="#4A4A4A" font-weight="normal" stroke="#4A4A4A" stroke-width="0.18" textLength="23.19" lengthAdjust="spacingAndGlyphs">$800,000</text>
<text x="714.41" y="486.52" font-size="8.96" fill="#4A4A4A" font-weight="normal" stroke="#4A4A4A" stroke-width="0.18" textLength="23.19" lengthAdjust="spacingAndGlyphs">$600,000</text>
<text x="714.41" y="505.90" font-size="8.96" fill="#4A4A4A" font-weight="normal" stroke="#4A4A4A" stroke-width="0.18" textLength="23.19" lengthAdjust="spacingAndGlyphs">$400,000</text>
<text x="714.41" y="525.28" font-size="8.96" fill="#4A4A4A" font-weight="normal" stroke="#4A4A4A" stroke-width="0.18" textLength="23.19" lengthAdjust="spacingAndGlyphs">$200,000</text>
<text x="732.66" y="544.66" font-size="8.96" fill="#4A4A4A" font-weight="normal" stroke="#4A4A4A" stroke-width="0.18" textLength="4.94" lengthAdjust="spacingAndGlyphs">$-</text>
<text x="710.71" y="564.04" font-size="8.96" fill="#4A4A4A" font-weight="normal" stroke="#4A4A4A" stroke-width="0.18" textLength="26.89" lengthAdjust="spacingAndGlyphs">$(200,000)</text>
<text x="710.71" y="583.42" font-size="8.96" fill="#4A4A4A" font-weight="normal" stroke="#4A4A4A" stroke-width="0.18" textLength="26.89" lengthAdjust="spacingAndGlyphs">$(400,000)</text>
<text x="710.71" y="602.80" font-size="8.96" fill="#4A4A4A" font-weight="normal" stroke="#4A4A4A" stroke-width="0.18" textLength="26.89" lengthAdjust="spacingAndGlyphs">$(600,000)</text>
<rect x="758.92" y="542.40" width="19.20" height="14.59" fill="#E06666" stroke="#000" stroke-width="0.90"/>
<rect x="758.92" y="556.99" width="19.20" height="18.97" fill="#FFC000" stroke="#000" stroke-width="0.90"/>
<rect x="758.92" y="524.40" width="19.20" height="18.00" fill="#F4CCCC" stroke="#000" stroke-width="0.90"/>
<rect x="805.96" y="542.40" width="19.20" height="13.62" fill="#E06666" stroke="#000" stroke-width="0.90"/>
<rect x="805.96" y="556.02" width="19.20" height="8.76" fill="#FFC000" stroke="#000" stroke-width="0.90"/>
<rect x="805.96" y="564.78" width="19.20" height="0.97" fill="#111" stroke="#000" stroke-width="0.90"/>
<rect x="853.00" y="535.10" width="19.20" height="7.30" fill="#E06666" stroke="#000" stroke-width="0.90"/>
<rect x="900.04" y="498.33" width="19.20" height="44.07" fill="#E06666" stroke="#000" stroke-width="0.90"/>
<rect x="900.04" y="497.36" width="19.20" height="0.97" fill="#111" stroke="#000" stroke-width="0.90"/>
<rect x="947.08" y="429.06" width="19.20" height="113.34" fill="#E06666" stroke="#000" stroke-width="0.90"/>
<rect x="947.08" y="420.50" width="19.20" height="8.56" fill="#FFC000" stroke="#000" stroke-width="0.90"/>
<line x1="745.00" y1="406.20" x2="745.00" y2="600.00" stroke="#404040" stroke-width="1.20"/>
<line x1="745.00" y1="542.40" x2="980.20" y2="542.40" stroke="#404040" stroke-width="1.20"/>
<text x="762.56" y="556.60" font-size="8.96" fill="#4A4A4A" font-weight="normal" stroke="#4A4A4A" stroke-width="0.18" textLength="11.92" lengthAdjust="spacingAndGlyphs">2023</text>
<text x="809.60" y="556.60" font-size="8.96" fill="#4A4A4A" font-weight="normal" stroke="#4A4A4A" stroke-width="0.18" textLength="11.92" lengthAdjust="spacingAndGlyphs">2024</text>
<text x="856.64" y="556.60" font-size="8.96" fill="#4A4A4A" font-weight="normal" stroke="#4A4A4A" stroke-width="0.18" textLength="11.92" lengthAdjust="spacingAndGlyphs">2025</text>
<text x="903.68" y="556.60" font-size="8.96" fill="#4A4A4A" font-weight="normal" stroke="#4A4A4A" stroke-width="0.18" textLength="11.92" lengthAdjust="spacingAndGlyphs">2026</text>
<text x="950.72" y="556.60" font-size="8.96" fill="#4A4A4A" font-weight="normal" stroke="#4A4A4A" stroke-width="0.18" textLength="11.92" lengthAdjust="spacingAndGlyphs">2027</text>
<rect x="737.60" y="632.50" width="3.80" height="4.20" fill="#E06666" stroke="#000" stroke-width="0.80"/>
<text x="742.00" y="637.60" font-size="8.40" fill="#4A4A4A" font-weight="normal" stroke="#4A4A4A" stroke-width="0.18" textLength="97.00" lengthAdjust="spacingAndGlyphs">Net Cash flow from Operating Activities</text>
<rect x="841.60" y="632.50" width="3.80" height="4.20" fill="#FFC000" stroke="#000" stroke-width="0.80"/>
<text x="846.00" y="637.60" font-size="8.40" fill="#4A4A4A" font-weight="normal" stroke="#4A4A4A" stroke-width="0.18" textLength="96.40" lengthAdjust="spacingAndGlyphs">Net Cash Flow From Investing Activities</text>
<rect x="737.60" y="649.10" width="3.80" height="4.20" fill="#F4CCCC" stroke="#000" stroke-width="0.80"/>
<text x="742.00" y="654.20" font-size="8.40" fill="#4A4A4A" font-weight="normal" stroke="#4A4A4A" stroke-width="0.18" textLength="97.00" lengthAdjust="spacingAndGlyphs">Net Cash Flow From Financing Activities</text>
<rect x="4.00" y="692.50" width="310.20" height="295.10" rx="7.5" ry="7.5" fill="#fff" stroke="#9A9A9A" stroke-width="1.1"/>
<text x="109.65" y="712.80" font-size="12.50" fill="#7F7F7F" font-weight="normal" textLength="98.30" lengthAdjust="spacingAndGlyphs">Total Assets and Liabilities</text>
<text x="22.37" y="732.10" font-size="8.96" fill="#4A4A4A" font-weight="normal" stroke="#4A4A4A" stroke-width="0.18" textLength="28.83" lengthAdjust="spacingAndGlyphs">$1,600,000</text>
<text x="22.37" y="755.27" font-size="8.96" fill="#4A4A4A" font-weight="normal" stroke="#4A4A4A" stroke-width="0.18" textLength="28.83" lengthAdjust="spacingAndGlyphs">$1,400,000</text>
<text x="22.37" y="778.44" font-size="8.96" fill="#4A4A4A" font-weight="normal" stroke="#4A4A4A" stroke-width="0.18" textLength="28.83" lengthAdjust="spacingAndGlyphs">$1,200,000</text>
<text x="22.37" y="801.61" font-size="8.96" fill="#4A4A4A" font-weight="normal" stroke="#4A4A4A" stroke-width="0.18" textLength="28.83" lengthAdjust="spacingAndGlyphs">$1,000,000</text>
<text x="27.18" y="824.78" font-size="8.96" fill="#4A4A4A" font-weight="normal" stroke="#4A4A4A" stroke-width="0.18" textLength="24.02" lengthAdjust="spacingAndGlyphs">$800,000</text>
<text x="27.18" y="847.95" font-size="8.96" fill="#4A4A4A" font-weight="normal" stroke="#4A4A4A" stroke-width="0.18" textLength="24.02" lengthAdjust="spacingAndGlyphs">$600,000</text>
<text x="27.18" y="871.12" font-size="8.96" fill="#4A4A4A" font-weight="normal" stroke="#4A4A4A" stroke-width="0.18" textLength="24.02" lengthAdjust="spacingAndGlyphs">$400,000</text>
<text x="27.18" y="894.29" font-size="8.96" fill="#4A4A4A" font-weight="normal" stroke="#4A4A4A" stroke-width="0.18" textLength="24.02" lengthAdjust="spacingAndGlyphs">$200,000</text>
<text x="46.08" y="917.46" font-size="8.96" fill="#4A4A4A" font-weight="normal" stroke="#4A4A4A" stroke-width="0.18" textLength="5.12" lengthAdjust="spacingAndGlyphs">$-</text>
<text x="23.34" y="940.63" font-size="8.96" fill="#4A4A4A" font-weight="normal" stroke="#4A4A4A" stroke-width="0.18" textLength="27.86" lengthAdjust="spacingAndGlyphs">$(200,000)</text>
<text x="23.34" y="963.80" font-size="8.96" fill="#4A4A4A" font-weight="normal" stroke="#4A4A4A" stroke-width="0.18" textLength="27.86" lengthAdjust="spacingAndGlyphs">$(400,000)</text>
<rect x="65.78" y="913.70" width="12.00" height="1.73" fill="#F4CCCC" stroke="#000" stroke-width="0.90"/>
<rect x="77.78" y="911.40" width="12.00" height="2.30" fill="#9A3030" stroke="#000" stroke-width="0.90"/>
<rect x="105.34" y="913.70" width="12.00" height="24.78" fill="#F4CCCC" stroke="#000" stroke-width="0.90"/>
<rect x="117.34" y="912.66" width="12.00" height="1.04" fill="#111" stroke="#000" stroke-width="0.90"/>
<rect x="144.90" y="913.70" width="12.00" height="22.47" fill="#F4CCCC" stroke="#000" stroke-width="0.90"/>
<rect x="156.90" y="912.66" width="12.00" height="1.04" fill="#111" stroke="#000" stroke-width="0.90"/>
<rect x="184.46" y="891.80" width="12.00" height="21.90" fill="#F4CCCC" stroke="#000" stroke-width="0.90"/>
<rect x="196.46" y="912.66" width="12.00" height="1.04" fill="#111" stroke="#000" stroke-width="0.90"/>
<rect x="224.02" y="750.85" width="12.00" height="162.85" fill="#F4CCCC" stroke="#000" stroke-width="0.90"/>
<rect x="236.02" y="912.66" width="12.00" height="1.04" fill="#111" stroke="#000" stroke-width="0.90"/>
<line x1="58.00" y1="729.30" x2="58.00" y2="961.00" stroke="#404040" stroke-width="1.20"/>
<line x1="58.00" y1="913.70" x2="255.80" y2="913.70" stroke="#404040" stroke-width="1.20"/>
<text x="71.82" y="929.00" font-size="8.96" fill="#4A4A4A" font-weight="normal" stroke="#4A4A4A" stroke-width="0.18" textLength="11.92" lengthAdjust="spacingAndGlyphs">2023</text>
<text x="111.38" y="929.00" font-size="8.96" fill="#4A4A4A" font-weight="normal" stroke="#4A4A4A" stroke-width="0.18" textLength="11.92" lengthAdjust="spacingAndGlyphs">2024</text>
<text x="150.94" y="929.00" font-size="8.96" fill="#4A4A4A" font-weight="normal" stroke="#4A4A4A" stroke-width="0.18" textLength="11.92" lengthAdjust="spacingAndGlyphs">2025</text>
<text x="190.50" y="929.00" font-size="8.96" fill="#4A4A4A" font-weight="normal" stroke="#4A4A4A" stroke-width="0.18" textLength="11.92" lengthAdjust="spacingAndGlyphs">2026</text>
<text x="230.06" y="929.00" font-size="8.96" fill="#4A4A4A" font-weight="normal" stroke="#4A4A4A" stroke-width="0.18" textLength="11.92" lengthAdjust="spacingAndGlyphs">2027</text>
<rect x="265.70" y="841.90" width="3.80" height="4.20" fill="#F4CCCC" stroke="#000" stroke-width="0.80"/>
<text x="270.00" y="846.60" font-size="8.40" fill="#4A4A4A" font-weight="normal" stroke="#4A4A4A" stroke-width="0.18" textLength="29.70" lengthAdjust="spacingAndGlyphs">Total Assets</text>
<rect x="265.70" y="858.80" width="3.80" height="4.20" fill="#E06666" stroke="#000" stroke-width="0.80"/>
<text x="270.00" y="863.50" font-size="8.40" fill="#4A4A4A" font-weight="normal" stroke="#4A4A4A" stroke-width="0.18" textLength="37.00" lengthAdjust="spacingAndGlyphs">Total Liabilities</text>
<rect x="343.40" y="693.40" width="313.90" height="296.50" rx="7.5" ry="7.5" fill="#fff" stroke="#9A9A9A" stroke-width="1.1"/>
<text x="433.80" y="713.30" font-size="12.50" fill="#7F7F7F" font-weight="normal" textLength="132.40" lengthAdjust="spacingAndGlyphs">Current and Non Current Liabilities</text>
<text x="363.55" y="732.60" font-size="8.96" fill="#4A4A4A" font-weight="normal" stroke="#4A4A4A" stroke-width="0.18" textLength="19.95" lengthAdjust="spacingAndGlyphs">$25,000</text>
<text x="363.55" y="771.57" font-size="8.96" fill="#4A4A4A" font-weight="normal" stroke="#4A4A4A" stroke-width="0.18" textLength="19.95" lengthAdjust="spacingAndGlyphs">$20,000</text>
<text x="363.55" y="810.53" font-size="8.96" fill="#4A4A4A" font-weight="normal" stroke="#4A4A4A" stroke-width="0.18" textLength="19.95" lengthAdjust="spacingAndGlyphs">$15,000</text>
<text x="363.55" y="849.50" font-size="8.96" fill="#4A4A4A" font-weight="normal" stroke="#4A4A4A" stroke-width="0.18" textLength="19.95" lengthAdjust="spacingAndGlyphs">$10,000</text>
<text x="366.62" y="888.47" font-size="8.96" fill="#4A4A4A" font-weight="normal" stroke="#4A4A4A" stroke-width="0.18" textLength="16.88" lengthAdjust="spacingAndGlyphs">$5,000</text>
<text x="378.59" y="927.43" font-size="8.96" fill="#4A4A4A" font-weight="normal" stroke="#4A4A4A" stroke-width="0.18" textLength="4.91" lengthAdjust="spacingAndGlyphs">$-</text>
<text x="362.94" y="966.40" font-size="8.96" fill="#4A4A4A" font-weight="normal" stroke="#4A4A4A" stroke-width="0.18" textLength="20.56" lengthAdjust="spacingAndGlyphs">$(5,000)</text>
<rect x="402.50" y="915.25" width="15.80" height="9.35" fill="#E06666" stroke="#000" stroke-width="0.90"/>
<rect x="402.50" y="820.97" width="15.80" height="94.28" fill="#F4CCCC" stroke="#000" stroke-width="0.90"/>
<rect x="402.50" y="756.29" width="15.80" height="64.67" fill="#C00000" stroke="#000" stroke-width="0.90"/>
<rect x="402.50" y="750.84" width="15.80" height="5.45" fill="#F4B183" stroke="#000" stroke-width="0.90"/>
<rect x="442.70" y="907.46" width="15.80" height="17.14" fill="#E06666" stroke="#000" stroke-width="0.90"/>
<rect x="442.70" y="834.21" width="15.80" height="73.24" fill="#F4CCCC" stroke="#000" stroke-width="0.90"/>
<rect x="442.70" y="785.12" width="15.80" height="49.09" fill="#C00000" stroke="#000" stroke-width="0.90"/>
<rect x="442.70" y="779.67" width="15.80" height="5.45" fill="#F4B183" stroke="#000" stroke-width="0.90"/>
<rect x="482.90" y="889.54" width="15.80" height="35.06" fill="#E06666" stroke="#000" stroke-width="0.90"/>
<rect x="482.90" y="841.23" width="15.80" height="48.31" fill="#F4CCCC" stroke="#000" stroke-width="0.90"/>
<rect x="482.90" y="806.94" width="15.80" height="34.28" fill="#C00000" stroke="#000" stroke-width="0.90"/>
<rect x="482.90" y="803.82" width="15.80" height="3.12" fill="#F4B183" stroke="#000" stroke-width="0.90"/>
<rect x="523.10" y="859.15" width="15.80" height="65.45" fill="#E06666" stroke="#000" stroke-width="0.90"/>
<rect x="523.10" y="833.43" width="15.80" height="25.71" fill="#F4CCCC" stroke="#000" stroke-width="0.90"/>
<rect x="523.10" y="815.51" width="15.80" height="17.92" fill="#C00000" stroke="#000" stroke-width="0.90"/>
<rect x="523.10" y="814.73" width="15.80" height="0.78" fill="#111" stroke="#000" stroke-width="0.90"/>
<rect x="563.30" y="799.15" width="15.80" height="125.45" fill="#E06666" stroke="#000" stroke-width="0.90"/>
<line x1="390.30" y1="729.80" x2="390.30" y2="963.60" stroke="#404040" stroke-width="1.20"/>
<line x1="390.30" y1="924.60" x2="591.30" y2="924.60" stroke="#404040" stroke-width="1.20"/>
<text x="404.44" y="939.30" font-size="8.96" fill="#4A4A4A" font-weight="normal" stroke="#4A4A4A" stroke-width="0.18" textLength="11.92" lengthAdjust="spacingAndGlyphs">2023</text>
<text x="444.64" y="939.30" font-size="8.96" fill="#4A4A4A" font-weight="normal" stroke="#4A4A4A" stroke-width="0.18" textLength="11.92" lengthAdjust="spacingAndGlyphs">2024</text>
<text x="484.84" y="939.30" font-size="8.96" fill="#4A4A4A" font-weight="normal" stroke="#4A4A4A" stroke-width="0.18" textLength="11.92" lengthAdjust="spacingAndGlyphs">2025</text>
<text x="525.04" y="939.30" font-size="8.96" fill="#4A4A4A" font-weight="normal" stroke="#4A4A4A" stroke-width="0.18" textLength="11.92" lengthAdjust="spacingAndGlyphs">2026</text>
<text x="565.24" y="939.30" font-size="8.96" fill="#4A4A4A" font-weight="normal" stroke="#4A4A4A" stroke-width="0.18" textLength="11.92" lengthAdjust="spacingAndGlyphs">2027</text>
<rect x="602.00" y="825.90" width="3.80" height="4.20" fill="#F4B183" stroke="#000" stroke-width="0.80"/>
<text x="606.20" y="830.60" font-size="8.40" fill="#4A4A4A" font-weight="normal" stroke="#4A4A4A" stroke-width="0.18" textLength="16.40" lengthAdjust="spacingAndGlyphs">Loan 3</text>
<rect x="602.00" y="843.00" width="3.80" height="4.20" fill="#C00000" stroke="#000" stroke-width="0.80"/>
<text x="606.20" y="847.70" font-size="8.40" fill="#4A4A4A" font-weight="normal" stroke="#4A4A4A" stroke-width="0.18" textLength="16.40" lengthAdjust="spacingAndGlyphs">Loan 2</text>
<rect x="602.00" y="860.10" width="3.80" height="4.20" fill="#F4CCCC" stroke="#000" stroke-width="0.80"/>
<text x="606.20" y="864.80" font-size="8.40" fill="#4A4A4A" font-weight="normal" stroke="#4A4A4A" stroke-width="0.18" textLength="16.40" lengthAdjust="spacingAndGlyphs">Loan 1</text>
<rect x="602.00" y="877.20" width="3.80" height="4.20" fill="#E06666" stroke="#000" stroke-width="0.80"/>
<text x="606.20" y="881.90" font-size="8.40" fill="#4A4A4A" font-weight="normal" stroke="#4A4A4A" stroke-width="0.18" textLength="44.00" lengthAdjust="spacingAndGlyphs">Account payables</text>
<rect x="689.60" y="693.40" width="299.80" height="297.00" rx="7.5" ry="7.5" fill="#fff" stroke="#9A9A9A" stroke-width="1.1"/>
<text x="827.00" y="713.20" font-size="12.50" fill="#7F7F7F" font-weight="normal" textLength="24.00" lengthAdjust="spacingAndGlyphs">Equity</text>
<text x="709.44" y="732.40" font-size="8.96" fill="#4A4A4A" font-weight="normal" stroke="#4A4A4A" stroke-width="0.18" textLength="24.36" lengthAdjust="spacingAndGlyphs">$180,000</text>
<text x="709.44" y="753.73" font-size="8.96" fill="#4A4A4A" font-weight="normal" stroke="#4A4A4A" stroke-width="0.18" textLength="24.36" lengthAdjust="spacingAndGlyphs">$160,000</text>
<text x="709.44" y="775.05" font-size="8.96" fill="#4A4A4A" font-weight="normal" stroke="#4A4A4A" stroke-width="0.18" textLength="24.36" lengthAdjust="spacingAndGlyphs">$140,000</text>
<text x="709.44" y="796.38" font-size="8.96" fill="#4A4A4A" font-weight="normal" stroke="#4A4A4A" stroke-width="0.18" textLength="24.36" lengthAdjust="spacingAndGlyphs">$120,000</text>
<text x="709.44" y="817.71" font-size="8.96" fill="#4A4A4A" font-weight="normal" stroke="#4A4A4A" stroke-width="0.18" textLength="24.36" lengthAdjust="spacingAndGlyphs">$100,000</text>
<text x="712.69" y="839.04" font-size="8.96" fill="#4A4A4A" font-weight="normal" stroke="#4A4A4A" stroke-width="0.18" textLength="21.11" lengthAdjust="spacingAndGlyphs">$80,000</text>
<text x="712.69" y="860.36" font-size="8.96" fill="#4A4A4A" font-weight="normal" stroke="#4A4A4A" stroke-width="0.18" textLength="21.11" lengthAdjust="spacingAndGlyphs">$60,000</text>
<text x="712.69" y="881.69" font-size="8.96" fill="#4A4A4A" font-weight="normal" stroke="#4A4A4A" stroke-width="0.18" textLength="21.11" lengthAdjust="spacingAndGlyphs">$40,000</text>
<text x="712.69" y="903.02" font-size="8.96" fill="#4A4A4A" font-weight="normal" stroke="#4A4A4A" stroke-width="0.18" textLength="21.11" lengthAdjust="spacingAndGlyphs">$20,000</text>
<text x="728.61" y="924.35" font-size="8.96" fill="#4A4A4A" font-weight="normal" stroke="#4A4A4A" stroke-width="0.18" textLength="5.19" lengthAdjust="spacingAndGlyphs">$-</text>
<text x="708.80" y="945.67" font-size="8.96" fill="#4A4A4A" font-weight="normal" stroke="#4A4A4A" stroke-width="0.18" textLength="25.00" lengthAdjust="spacingAndGlyphs">$(20,000)</text>
<text x="708.80" y="967.00" font-size="8.96" fill="#4A4A4A" font-weight="normal" stroke="#4A4A4A" stroke-width="0.18" textLength="25.00" lengthAdjust="spacingAndGlyphs">$(40,000)</text>
<rect x="748.28" y="835.93" width="13.40" height="85.07" fill="#E06666" stroke="#000" stroke-width="0.90"/>
<rect x="748.28" y="809.35" width="13.40" height="26.58" fill="#F4CCCC" stroke="#000" stroke-width="0.90"/>
<rect x="779.84" y="835.93" width="13.40" height="85.07" fill="#E06666" stroke="#000" stroke-width="0.90"/>
<rect x="779.84" y="809.35" width="13.40" height="26.58" fill="#F4CCCC" stroke="#000" stroke-width="0.90"/>
<rect x="811.40" y="835.93" width="13.40" height="85.07" fill="#E06666" stroke="#000" stroke-width="0.90"/>
<rect x="811.40" y="809.35" width="13.40" height="26.58" fill="#F4CCCC" stroke="#000" stroke-width="0.90"/>
<rect x="842.96" y="835.93" width="13.40" height="85.07" fill="#E06666" stroke="#000" stroke-width="0.90"/>
<rect x="842.96" y="809.35" width="13.40" height="26.58" fill="#F4CCCC" stroke="#000" stroke-width="0.90"/>
<rect x="842.96" y="921.00" width="13.40" height="19.14" fill="#C00000" stroke="#000" stroke-width="0.90"/>
<rect x="874.52" y="835.93" width="13.40" height="85.07" fill="#E06666" stroke="#000" stroke-width="0.90"/>
<rect x="874.52" y="809.35" width="13.40" height="26.58" fill="#F4CCCC" stroke="#000" stroke-width="0.90"/>
<rect x="874.52" y="756.18" width="13.40" height="53.17" fill="#C00000" stroke="#000" stroke-width="0.90"/>
<line x1="739.20" y1="729.60" x2="739.20" y2="964.20" stroke="#404040" stroke-width="1.20"/>
<line x1="739.20" y1="921.00" x2="897.00" y2="921.00" stroke="#404040" stroke-width="1.20"/>
<text x="749.02" y="935.00" font-size="8.96" fill="#4A4A4A" font-weight="normal" stroke="#4A4A4A" stroke-width="0.18" textLength="11.92" lengthAdjust="spacingAndGlyphs">2023</text>
<text x="780.58" y="935.00" font-size="8.96" fill="#4A4A4A" font-weight="normal" stroke="#4A4A4A" stroke-width="0.18" textLength="11.92" lengthAdjust="spacingAndGlyphs">2024</text>
<text x="812.14" y="935.00" font-size="8.96" fill="#4A4A4A" font-weight="normal" stroke="#4A4A4A" stroke-width="0.18" textLength="11.92" lengthAdjust="spacingAndGlyphs">2025</text>
<text x="843.70" y="935.00" font-size="8.96" fill="#4A4A4A" font-weight="normal" stroke="#4A4A4A" stroke-width="0.18" textLength="11.92" lengthAdjust="spacingAndGlyphs">2026</text>
<text x="875.26" y="935.00" font-size="8.96" fill="#4A4A4A" font-weight="normal" stroke="#4A4A4A" stroke-width="0.18" textLength="11.92" lengthAdjust="spacingAndGlyphs">2027</text>
<rect x="907.20" y="835.20" width="3.80" height="4.40" fill="#C00000" stroke="#000" stroke-width="0.80"/>
<text x="911.60" y="840.00" font-size="8.40" fill="#4A4A4A" font-weight="normal" stroke="#4A4A4A" stroke-width="0.18" textLength="70.80" lengthAdjust="spacingAndGlyphs">Profit/loss from sale of Asset</text>
<rect x="907.20" y="852.00" width="3.80" height="4.40" fill="#F4CCCC" stroke="#000" stroke-width="0.80"/>
<text x="911.60" y="856.80" font-size="8.40" fill="#4A4A4A" font-weight="normal" stroke="#4A4A4A" stroke-width="0.18" textLength="67.60" lengthAdjust="spacingAndGlyphs">Investment from Investor 2</text>
<rect x="907.20" y="868.80" width="3.80" height="4.40" fill="#E06666" stroke="#000" stroke-width="0.80"/>
<text x="911.60" y="873.60" font-size="8.40" fill="#4A4A4A" font-weight="normal" stroke="#4A4A4A" stroke-width="0.18" textLength="59.00" lengthAdjust="spacingAndGlyphs">Investment from Owner</text>
</svg>
</body></html>
